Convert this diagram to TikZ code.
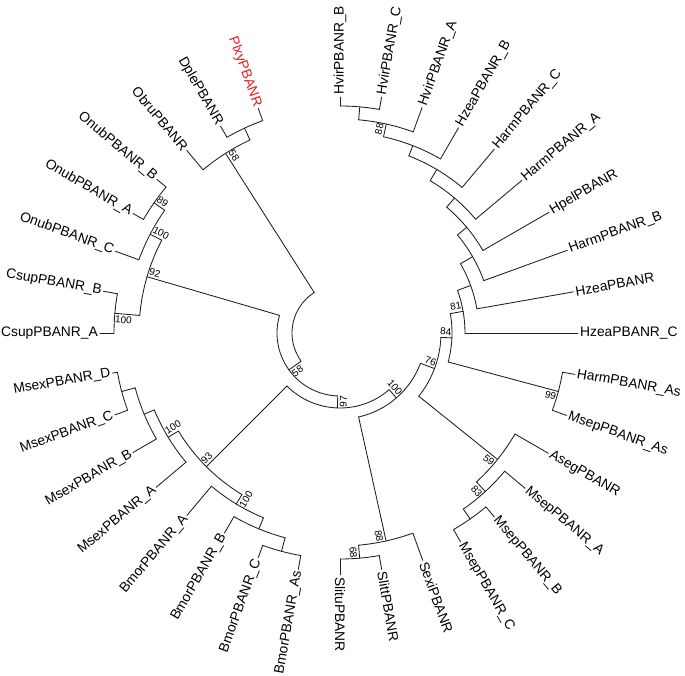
\documentclass[tikz,border=0pt]{standalone}
\usepackage{fontspec}
\setmainfont{Liberation Sans}
\definecolor{plxyred}{RGB}{228,28,36}
\definecolor{brc}{RGB}{30,30,30}
\tikzset{
  br/.style={draw=brc, line width=0.85pt, line cap=round, line join=round},
  lab/.style={inner sep=2pt, font=\fontsize{13.8}{14}\selectfont},
  bsl/.style={inner xsep=0.6pt, inner ysep=2.2pt, font=\fontsize{10}{10}\selectfont}
}
% tree node: name, angle, radius, parent radius
\newcommand\tn[4]{\coordinate (#1) at (#2:#3); \coordinate (#1-0) at (#2:#4); \draw[br] (#1-0) -- (#1);}
% arc of a node: first child, start angle, end angle, radius
\newcommand\ta[4]{\draw[br] (#1-0) arc[start angle=#2, end angle=#3, radius=#4];}
% leaf labels (right / left side)
\newcommand\lr[3]{\node[lab, anchor=west, rotate=#2] (#1-t) at (#1) {#3};}
\newcommand\lf[3]{\node[lab, anchor=east, rotate={#2-180}] (#1-t) at (#1) {#3};}
% bootstrap: name, anchor, node, rotation, text
\newcommand\bs[5]{\node[bsl, anchor=#2, rotate=#4] (#1) at (#3) {#5};}
\begin{document}
\begin{tikzpicture}[x=1pt,y=1pt]
\useasboundingbox (-340,-343) rectangle (345,333);
% root
\tn{P58}{122.5}{213}{48}
\tn{B}{215.86}{63}{48}
\ta{P58}{122.5}{215.86}{48}
% Obru clade
\tn{Obru}{130}{238.5}{213}
\tn{DP}{115}{226}{213}
\ta{DP}{115}{130}{213}
\tn{Dple}{120}{239}{226}
\tn{Plxy}{110}{239}{226}
\ta{Plxy}{110}{120}{226}
% B
\tn{N92}{163.75}{201}{63}
\tn{C}{267.97}{75}{63}
\ta{N92}{163.75}{267.97}{63}
% Csup / Onub
\tn{On100}{152.5}{214}{201}
\tn{Cs100}{175}{226}{201}
\ta{On100}{152.5}{175}{201}
\tn{CsB}{170}{240}{226}
\tn{CsA}{180}{240}{226}
\ta{CsB}{170}{180}{226}
\tn{OnC}{160}{239}{214}
\tn{On89}{145}{227}{214}
\ta{On89}{145}{160}{214}
\tn{OnA}{150}{239}{227}
\tn{OnB}{140}{239}{227}
\ta{OnB}{140}{150}{227}
% C
\tn{N93}{225}{189}{75}
\tn{D}{310.94}{86}{75}
\ta{N93}{225}{310.94}{75}
\tn{Ms100}{211.25}{201}{189}
\tn{Bm100}{238.75}{200}{189}
\ta{Ms100}{211.25}{238.75}{189}
\tn{MxA}{220}{240}{201}
\tn{MsBCD}{202.5}{212}{201}
\ta{MsBCD}{202.5}{220}{201}
\tn{MxB}{210}{239}{212}
\tn{MsCD}{195}{226}{212}
\ta{MsCD}{195}{210}{212}
\tn{MxC}{200}{239.5}{226}
\tn{MxD}{190}{231}{226}
\ta{MxD}{190}{200}{226}
\tn{BmA}{230}{238}{200}
\tn{BmBCA}{247.5}{212}{200}
\ta{BmA}{230}{247.5}{200}
\tn{BmB}{240}{231}{212}
\tn{BmCA}{255}{226}{212}
\ta{BmB}{240}{255}{212}
\tn{BmC}{250}{239}{226}
\tn{BmAs}{260}{240}{226}
\ta{BmC}{250}{260}{226}
% D
\tn{S88}{282.5}{213}{86}
\tn{E}{339.37}{101}{86}
\ta{S88}{282.5}{339.37}{86}
\tn{Sexi}{290}{242}{213}
\tn{S68}{275}{226}{213}
\ta{S68}{275}{290}{213}
\tn{Slitt}{280}{240}{226}
\tn{Slitu}{270}{242}{226}
\ta{Slitu}{270}{280}{226}
% E
\tn{A59}{321.25}{202}{101}
\tn{F}{357.49}{112}{101}
\ta{A59}{321.25}{357.49}{101}
\tn{Aseg}{330}{240.6}{202}
\tn{M83}{312.5}{215}{202}
\ta{M83}{312.5}{330}{202}
\tn{MpA}{320}{241.5}{215}
\tn{MBC}{305}{227}{215}
\ta{MBC}{305}{320}{215}
\tn{MpB}{310}{240}{227}
\tn{MpC}{300}{241}{227}
\ta{MpC}{300}{310}{227}
% F
\tn{H99}{-15}{226}{112}
\tn{G}{9.98}{125}{112}
\ta{H99}{-15}{9.98}{112}
\tn{HaAs}{-10}{238.5}{226}
\tn{MpAs}{-20}{241}{226}
\ta{MpAs}{-20}{-10}{226}
\tn{HzC}{0}{238}{125}
\tn{H}{19.96}{139}{125}
\ta{HzC}{0}{19.96}{125}
\tn{Hz}{10}{237}{139}
\tn{I}{29.92}{153}{139}
\ta{Hz}{10}{29.92}{139}
\tn{HaB}{20}{242}{153}
\tn{J}{39.84}{165}{153}
\ta{HaB}{20}{39.84}{153}
\tn{Hpel}{30}{241.5}{165}
\tn{K}{49.69}{177}{165}
\ta{Hpel}{30}{49.69}{165}
\tn{HaA}{40}{237.5}{177}
\tn{L}{59.375}{190}{177}
\ta{HaA}{40}{59.375}{177}
\tn{HaC}{50}{240}{190}
\tn{M}{68.75}{201}{190}
\ta{HaC}{50}{68.75}{190}
\tn{HzB}{60}{237}{201}
\tn{N88}{77.5}{214}{201}
\ta{HzB}{60}{77.5}{201}
\tn{HvA}{70}{240}{214}
\tn{O}{85}{227}{214}
\ta{HvA}{70}{85}{214}
\tn{HvC}{80}{239.5}{227}
\tn{HvB}{90}{236}{227}
\ta{HvC}{80}{90}{227}
% leaf labels, right side
\lr{HvB}{90}{HvirPBANR\_B}
\lr{HvC}{80}{HvirPBANR\_C}
\lr{HvA}{70}{HvirPBANR\_A}
\lr{HzB}{60}{HzeaPBANR\_B}
\lr{HaC}{50}{HarmPBANR\_C}
\lr{HaA}{40}{HarmPBANR\_A}
\lr{Hpel}{30}{HpelPBANR}
\lr{HaB}{20}{HarmPBANR\_B}
\lr{Hz}{10}{HzeaPBANR}
\lr{HzC}{0}{HzeaPBANR\_C}
\lr{HaAs}{-10}{HarmPBANR\_As}
\lr{MpAs}{-20}{MsepPBANR\_As}
\lr{Aseg}{-30}{AsegPBANR}
\lr{MpA}{-40}{MsepPBANR\_A}
\lr{MpB}{-50}{MsepPBANR\_B}
\lr{MpC}{-60}{MsepPBANR\_C}
\lr{Sexi}{-70}{SexiPBANR}
\lr{Slitt}{-80}{SlittPBANR}
\lr{Slitu}{-90}{SlituPBANR}
% leaf labels, left side
\node[lab, anchor=east, rotate=-70, text=plxyred] (Plxy-t) at (Plxy) {PlxyPBANR};
\lf{Dple}{120}{DplePBANR}
\lf{Obru}{130}{ObruPBANR}
\lf{OnB}{140}{OnubPBANR\_B}
\lf{OnA}{150}{OnubPBANR\_A}
\lf{OnC}{160}{OnubPBANR\_C}
\lf{CsB}{170}{CsupPBANR\_B}
\lf{CsA}{180}{CsupPBANR\_A}
\lf{MxD}{190}{MsexPBANR\_D}
\lf{MxC}{200}{MsexPBANR\_C}
\lf{MxB}{210}{MsexPBANR\_B}
\lf{MxA}{220}{MsexPBANR\_A}
\lf{BmA}{230}{BmorPBANR\_A}
\lf{BmB}{240}{BmorPBANR\_B}
\lf{BmC}{250}{BmorPBANR\_C}
\lf{BmAs}{260}{BmorPBANR\_As}
% bootstrap values
\bs{b1}{south west}{P58}{-57.5}{58}
\bs{b2}{south west}{N92}{-16.25}{92}
\bs{b3}{south west}{On100}{-27.5}{100}
\bs{b4}{south west}{On89}{-35}{89}
\bs{b5}{north west}{Cs100}{-5}{100}
\bs{b6}{north west}{B}{35.86}{58}
\bs{b7}{north west}{C}{87.97}{97}
\bs{b8}{south east}{D}{-49.06}{100}
\bs{b9}{south east}{E}{-20.63}{76}
\bs{b10}{south east}{F}{-2.51}{84}
\bs{b11}{south east}{G}{9.98}{81}
\bs{b12}{south east}{N88}{77.5}{88}
\bs{b13}{north east}{H99}{-15}{99}
\bs{b14}{north east}{A59}{-38.75}{59}
\bs{b15}{north east}{M83}{-47.5}{83}
\bs{b16}{north east}{S88}{-77.5}{88}
\bs{b17}{north east}{S68}{-85}{68}
\bs{b18}{south west}{Ms100}{31.25}{100}
\bs{b19}{south west}{N93}{45}{93}
\bs{b20}{north west}{Bm100}{58.75}{100}
\end{tikzpicture}
\end{document}
